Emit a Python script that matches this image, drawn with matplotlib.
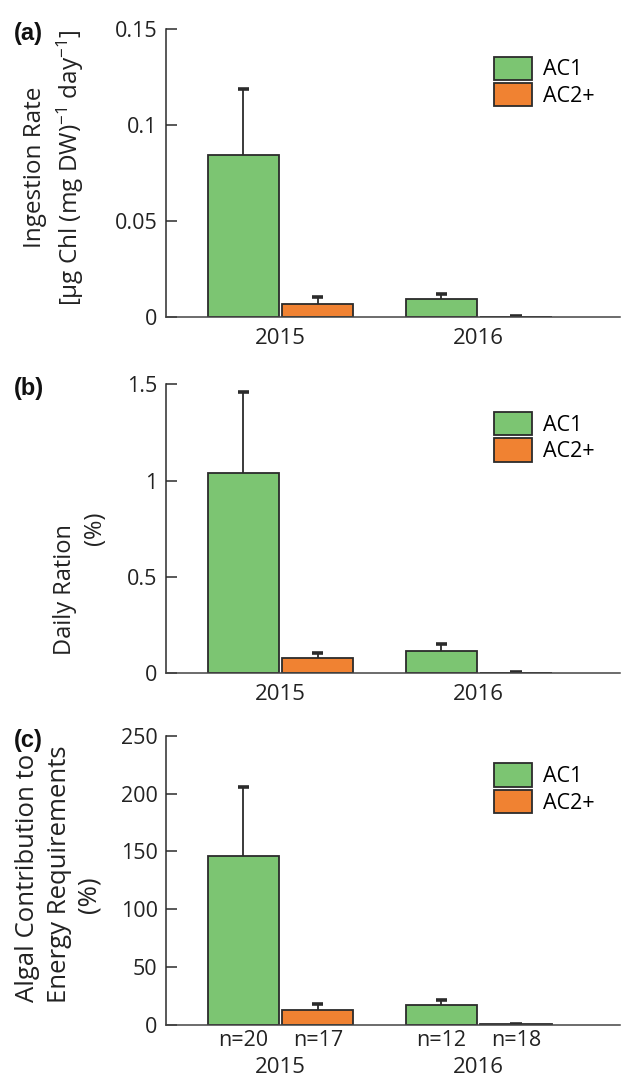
import numpy as np
import matplotlib
matplotlib.use("Agg")
import matplotlib.pyplot as plt
from matplotlib.patches import Patch

plt.rcParams['font.family'] = ['Open Sans', 'DejaVu Sans']
plt.rcParams['mathtext.fontset'] = 'custom'
plt.rcParams['mathtext.rm'] = 'Open Sans'
plt.rcParams['mathtext.it'] = 'Open Sans'

# ---------------- datos ----------------
years = ['2015', '2016']
groups = ['AC1', 'AC2+']
n_labels = [['n=20', 'n=17'], ['n=12', 'n=18']]

ingestion_ac1 = [0.0843, 0.0093]
ingestion_ac1_err = [0.0343, 0.0028]
ingestion_ac2 = [0.0069, 0.0003]
ingestion_ac2_err = [0.0035, 0.0002]

ration_ac1 = [1.041, 0.114]
ration_ac1_err = [0.420, 0.036]
ration_ac2 = [0.078, 0.003]
ration_ac2_err = [0.029, 0.002]

energy_ac1 = [146.1, 16.8]
energy_ac1_err = [59.5, 4.6]
energy_ac2 = [12.5, 0.4]
energy_ac2_err = [5.7, 0.3]

green = '#7cc572'
orange = '#f08232'
edge = '#2b2b2b'
txt_col = '#222222'

fig = plt.figure(figsize=(6.22, 10.79), dpi=100)

left, width = 0.267, 0.730
paneles = [
    dict(bottom=0.706, top=0.973, ac1=ingestion_ac1, e1=ingestion_ac1_err,
         ac2=ingestion_ac2, e2=ingestion_ac2_err, ymax=0.15,
         ticks=[0, 0.05, 0.1, 0.15], ticklabels=['0', '0.05', '0.1', '0.15'],
         ylab=['Ingestion Rate', '[µg Chl (mg DW)$^{-1}$ day$^{-1}$]'],
         ylab_x=[-0.289, -0.211], ylab_y=[0.52, 0.52], ylab_fs=17.5, tag='(a)'),
    dict(bottom=0.376, top=0.644, ac1=ration_ac1, e1=ration_ac1_err,
         ac2=ration_ac2, e2=ration_ac2_err, ymax=1.5,
         ticks=[0, 0.5, 1, 1.5], ticklabels=['0', '0.5', '1', '1.5'],
         ylab=['Daily Ration', '(%)'],
         ylab_x=[-0.222, -0.156], ylab_y=[0.29, 0.50], ylab_fs=17, tag='(b)'),
    dict(bottom=0.0503, top=0.318, ac1=energy_ac1, e1=energy_ac1_err,
         ac2=energy_ac2, e2=energy_ac2_err, ymax=250,
         ticks=[0, 50, 100, 150, 200, 250],
         ticklabels=['0', '50', '100', '150', '200', '250'],
         ylab=['Algal Contribution to', 'Energy Requirements', '(%)'],
         ylab_x=[-0.306, -0.234, -0.170], ylab_y=[0.51, 0.52, 0.45],
         ylab_fs=18.5, tag='(c)'),
]

x = np.arange(len(years))
w = 0.359
off = 0.189
cap = 0.028

def barras(ax, xs, vals, errs, color, label):
    ax.bar(xs, vals, w, color=color, edgecolor=edge, linewidth=1.3, label=label)
    tops = np.array(vals) + np.array(errs)
    # solo la mitad superior de la barra de error
    ax.vlines(xs, vals, tops, color=edge, linewidth=1.3)
    ax.hlines(tops, xs - cap, xs + cap, color=edge, linewidth=2.6)

for k, p in enumerate(paneles):
    ax = fig.add_axes([left, p['bottom'], width, p['top'] - p['bottom']])
    barras(ax, x - off, p['ac1'], p['e1'], green, groups[0])
    barras(ax, x + off, p['ac2'], p['e2'], orange, groups[1])

    ax.set_xlim(-0.578, 1.715)
    ax.set_ylim(0, p['ymax'])
    ax.spines['top'].set_visible(False)
    ax.spines['right'].set_visible(False)
    ax.spines['left'].set_color(edge)
    ax.spines['bottom'].set_color('#444444')
    ax.spines['left'].set_linewidth(1.1)
    ax.spines['bottom'].set_linewidth(1.1)

    ax.set_yticks(p['ticks'])
    ax.set_yticklabels(p['ticklabels'])
    ax.tick_params(axis='y', direction='in', length=8, width=1.1, color=edge,
                   labelsize=15.5, pad=6, labelcolor=txt_col)

    if k < 2:
        ax.set_xticks(x)
        ax.set_xticklabels(years)
        ax.tick_params(axis='x', length=0, labelsize=16, pad=8,
                       labelcolor=txt_col)
    else:
        ax.set_xticks([])
        tr = ax.get_xaxis_transform()
        for i in range(len(years)):
            ax.text(x[i] - off, -0.055, n_labels[i][0], transform=tr,
                    ha='center', va='center', fontsize=15.5, color=txt_col)
            ax.text(x[i] + off, -0.055, n_labels[i][1], transform=tr,
                    ha='center', va='center', fontsize=15.5, color=txt_col)
            ax.text(x[i], -0.148, years[i], transform=tr,
                    ha='center', va='center', fontsize=16, color=txt_col)

    for txt, xx, yy in zip(p['ylab'], p['ylab_x'], p['ylab_y']):
        ax.text(xx, yy, txt, transform=ax.transAxes, rotation=90,
                ha='center', va='center', fontsize=p['ylab_fs'], color=txt_col)

    handles = [Patch(facecolor=green, edgecolor=edge, linewidth=1.3),
               Patch(facecolor=orange, edgecolor=edge, linewidth=1.3)]
    ax.legend(handles, groups, loc='upper left', bbox_to_anchor=(0.722, 0.905),
              frameon=False, fontsize=15.5, handlelength=1.75, handleheight=1.3,
              handletextpad=0.55, labelspacing=0.12, borderpad=0, borderaxespad=0)

    fig.text(0.022, p['top'] - 0.004, p['tag'], fontsize=17, fontweight='bold',
             family='Liberation Sans', ha='left', va='center', color='#111111')

fig.savefig('out.png', dpi=100)
